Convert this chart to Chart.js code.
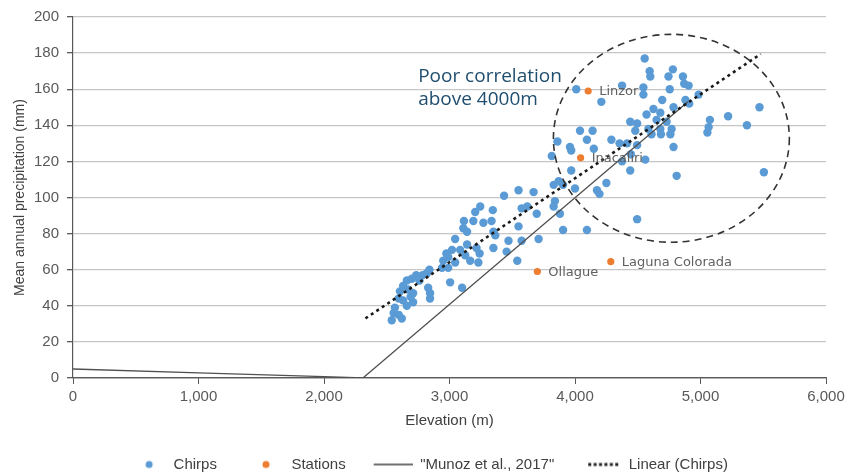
<!DOCTYPE html>
<html>
<head>
<meta charset="utf-8">
<script src="https://cdn.jsdelivr.net/npm/chart.js@4.4.1/dist/chart.umd.min.js"></script>
<style>
  html, body { margin: 0; padding: 0; background: #fff; }
  #wrap { width: 850px; height: 473px; }
</style>
</head>
<body>
<div id="wrap"><canvas id="precipChart" width="850" height="473"></canvas></div>
<script>
// CHIRPS grid cells: elevation (m) vs mean annual precipitation (mm)
const chirpsElevation = [
    2540, 2555, 2595, 2620, 2565, 2660, 2595, 2630, 2710, 2690, 2605, 2630, 2670, 2710, 2660, 2700,
    2735, 2760, 2785, 2820, 2840, 2830, 2845, 2845, 2940, 2990, 3005, 3100, 2950, 2990, 3045, 3125,
    3165, 3230, 3020, 3085, 3045, 3140, 3215, 2975, 3240, 3350, 3470, 3575, 3710, 3455, 3540, 3245,
    3205, 3345, 3115, 3190, 3270, 3335, 3110, 3140, 3350, 3365, 3550, 3435, 3550, 3670, 3575, 3620,
    3695, 3815, 3860, 3960, 3970, 4040, 4095, 4140, 4150, 4290, 4355, 4415, 4445, 4375, 4440, 3970,
    4250, 4000, 3905, 3830, 3870, 4175, 4195, 3840, 3830, 3880, 3905, 4095, 4495, 4555, 4595, 4600,
    4780, 4745, 4860, 4870, 4905, 4375, 4545, 4755, 4010, 4545, 4210, 4695, 4785, 4880, 4910, 4985,
    4625, 4570, 4680, 4650, 4730, 4440, 4495, 4480, 4585, 4680, 4770, 4760, 4610, 5075, 5065, 5055,
    5220, 5370, 5470, 5505, 4785, 4810, 4560, 4685, 4495
];
const chirpsPrecip = [
    32, 36, 35, 33, 39, 40, 44, 43, 42, 45, 48, 51, 49, 47, 54, 55,
    57, 54, 57, 58, 60, 50, 47, 44, 61, 61, 53, 50, 65, 67, 64, 68,
    65, 64, 71, 71, 77, 74, 72, 69, 69, 72, 76, 76, 77, 70, 65, 95,
    92, 93, 87, 87, 86, 87, 83, 81, 81, 79, 84, 101, 104, 103, 94, 95,
    91, 123, 131, 128, 126, 137, 132, 137, 127, 132, 130, 130, 124, 120, 115, 115,
    108, 105, 107, 107, 109, 104, 102, 98, 95, 91, 82, 82, 88, 177, 170, 167,
    171, 167, 167, 163, 162, 162, 161, 160, 160, 157, 153, 154, 150, 154, 152, 157,
    149, 146, 147, 143, 142, 142, 141, 137, 138, 138, 138, 135, 135, 143, 139, 136,
    145, 140, 150, 114, 128, 112, 121, 135, 129
];

// Gauging stations
const stationNames = ['Linzor', 'Inacaliri', 'Ollague', 'Laguna Colorada'];
const stationElevation = [4105, 4045, 3700, 4285];
const stationPrecip = [159, 122, 59, 64.5];

// Munoz et al. (2017) relation
const munozElevation = [0, 1000, 2000, 2310, 4900];
const munozPrecip = [5, 2.8, 0.8, 0, 153];

// Linear trendline of the CHIRPS points
const trendElevation = [2330, 5480];
const trendPrecip = [33, 179.5];

const toPoints = (xs, ys) => xs.map((x, i) => ({ x: x, y: ys[i] }));

document.addEventListener('DOMContentLoaded', function () {
    const baseFont = 'Liberation Sans';

    // small canvases used as legend markers
    function legendIcon(draw) {
        const c = document.createElement('canvas');
        c.width = 40;
        c.height = 10;
        draw(c.getContext('2d'));
        return c;
    }
    const legendIcons = [
        legendIcon(g => { g.fillStyle = '#5b9bd5'; g.beginPath(); g.arc(23, 5, 3.5, 0, Math.PI * 2); g.fill(); }),
        legendIcon(g => { g.fillStyle = '#ed7d31'; g.beginPath(); g.arc(22, 5, 3.5, 0, Math.PI * 2); g.fill(); }),
        legendIcon(g => { g.strokeStyle = '#404040'; g.lineWidth = 1.5; g.beginPath(); g.moveTo(1, 5); g.lineTo(40, 5); g.stroke(); }),
        legendIcon(g => { g.fillStyle = '#222'; for (let x = 7; x < 39; x += 5.4) g.fillRect(x, 3.5, 3, 3); })
    ];

    // legend box height fixed so the row sits at the bottom, nudged right
    const legendHeight = {
        id: 'legendHeight',
        beforeInit(chart) {
            const fit = chart.legend.fit;
            chart.legend.fit = function () {
                fit.call(this);
                this.height = 43;
            };
        },
        afterLayout(chart) {
            chart.legend.left += 14;
            chart.legend.right += 14;
        }
    };

    // names next to the station points
    const stationLabels = {
        id: 'stationLabels',
        afterDatasetsDraw(chart) {
            const ctx = chart.ctx;
            const meta = chart.getDatasetMeta(1);
            ctx.save();
            ctx.font = '13px "DejaVu Sans"';
            ctx.fillStyle = '#606060';
            ctx.textBaseline = 'middle';
            meta.data.forEach((pt, i) => ctx.fillText(stationNames[i], pt.x + 11, pt.y + 1));
            ctx.restore();
        }
    };

    // dashed ellipse + note
    const correlationNote = {
        id: 'correlationNote',
        afterDatasetsDraw(chart) {
            const ctx = chart.ctx;
            const x = chart.scales.x, y = chart.scales.y;
            const cx = x.getPixelForValue(4768), cy = y.getPixelForValue(132.8);
            const rx = x.getPixelForValue(4768 + 940) - cx;
            const ry = cy - y.getPixelForValue(132.8 + 57.6);
            ctx.save();
            ctx.strokeStyle = '#333';
            ctx.lineWidth = 1.6;
            ctx.setLineDash([7, 5]);
            ctx.beginPath();
            ctx.ellipse(cx, cy, rx, ry, 0, 0, Math.PI * 2);
            ctx.stroke();
            ctx.setLineDash([]);
            ctx.font = '19px "Open Sans"';
            ctx.fillStyle = '#1f4e6e';
            ctx.textBaseline = 'middle';
            const tx = x.getPixelForValue(2750);
            ctx.fillText('Poor correlation', tx, y.getPixelForValue(167));
            ctx.fillText('above 4000m', tx, y.getPixelForValue(154));
            ctx.restore();
        }
    };

    const ctx = document.getElementById('precipChart').getContext('2d');
    new Chart(ctx, {
        type: 'scatter',
        data: {
            datasets: [{
                label: 'Chirps',
                data: toPoints(chirpsElevation, chirpsPrecip),
                backgroundColor: '#5b9bd5',
                borderColor: '#5b9bd5',
                pointRadius: 4.2,
                borderWidth: 0,
                order: 4
            }, {
                label: 'Stations',
                data: toPoints(stationElevation, stationPrecip),
                backgroundColor: '#ed7d31',
                borderColor: '#ed7d31',
                pointRadius: 3.6,
                borderWidth: 0,
                order: 3
            }, {
                label: '"Munoz et al., 2017"',
                data: toPoints(munozElevation, munozPrecip),
                showLine: true,
                borderColor: '#505050',
                borderWidth: 1.3,
                pointRadius: 0,
                order: 2
            }, {
                label: 'Linear (Chirps)',
                data: toPoints(trendElevation, trendPrecip),
                showLine: true,
                borderColor: '#1a1a1a',
                borderWidth: 2.6,
                borderDash: [3, 3.6],
                pointRadius: 0,
                order: 1
            }]
        },
        options: {
            responsive: false,
            animation: false,
            devicePixelRatio: 1,
            layout: { padding: { top: 15, right: 24, bottom: 0, left: 0 } },
            scales: {
                x: {
                    type: 'linear',
                    min: 0,
                    max: 6000,
                    ticks: {
                        stepSize: 1000,
                        color: '#595959',
                        font: { family: baseFont, size: 15 },
                        padding: 4,
                        callback: v => v.toLocaleString('en-US')
                    },
                    grid: { drawOnChartArea: false, tickLength: 6, color: '#595959' },
                    border: { color: '#595959', width: 1.2 },
                    title: {
                        display: true,
                        text: 'Elevation (m)',
                        color: '#404040',
                        font: { family: baseFont, size: 15 },
                        padding: { top: 0, bottom: 0 }
                    },
                    afterFit(scale) { scale.height = 52; }
                },
                y: {
                    min: 0,
                    max: 200,
                    ticks: {
                        stepSize: 20,
                        color: '#595959',
                        font: { family: baseFont, size: 15 },
                        padding: 8
                    },
                    grid: {
                        color: c => c.tick && c.tick.value === 0 ? '#595959' : '#c6c6c6',
                        lineWidth: 1.3,
                        tickColor: '#595959',
                        tickLength: 6
                    },
                    border: { color: '#595959', width: 1.2 },
                    title: {
                        display: true,
                        text: 'Mean annual precipitation (mm)',
                        color: '#404040',
                        font: { family: baseFont, size: 14 },
                        padding: { top: 12, bottom: 0 }
                    },
                    afterFit(scale) { scale.width = 73; }
                }
            },
            plugins: {
                tooltip: { enabled: false },
                legend: {
                    position: 'bottom',
                    labels: {
                        usePointStyle: true,
                        pointStyleWidth: 40,
                        padding: 27,
                        color: '#404040',
                        font: { family: baseFont, size: 15 },
                        sort: (a, b) => a.datasetIndex - b.datasetIndex,
                        generateLabels(chart) {
                            const items = Chart.defaults.plugins.legend.labels.generateLabels(chart);
                            items.forEach(item => { item.pointStyle = legendIcons[item.datasetIndex]; });
                            return items;
                        }
                    }
                }
            }
        },
        plugins: [legendHeight, stationLabels, correlationNote]
    });
});
</script>
</body>
</html>
